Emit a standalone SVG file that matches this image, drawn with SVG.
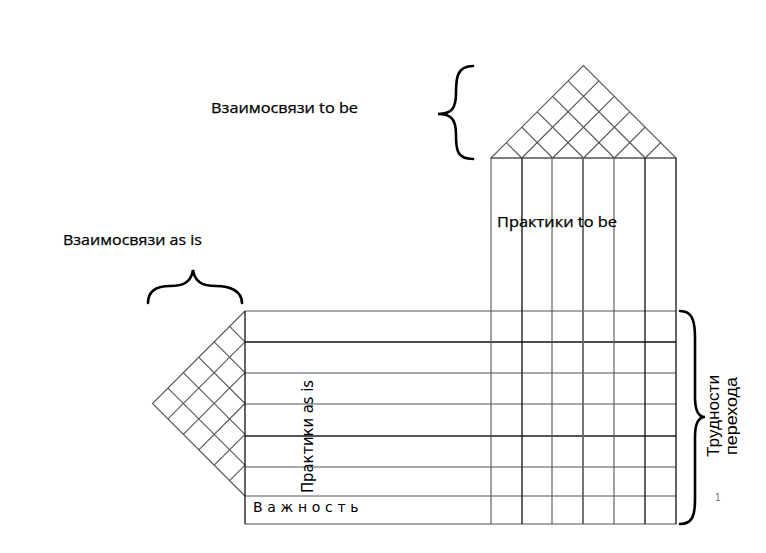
<svg xmlns="http://www.w3.org/2000/svg" width="766" height="553" viewBox="0 0 766 553">
<style>
.g{stroke:#555;stroke-width:1.1;fill:none}
.k{stroke:#111;stroke-width:1.3;fill:none}
.br{stroke:#000;stroke-width:2.6;fill:none;stroke-linecap:round}
.t{font-family:"Open Sans",sans-serif;fill:#000}
.d{font-family:"DejaVu Sans",sans-serif;fill:#000}
.a{font-family:"Liberation Sans",Arial,sans-serif;fill:#000}
</style>
<rect width="766" height="553" fill="#fff"/>
<g id="roof-to-be">
<path class="g" d="M491,158 L583.5,65.5 L676,158 Z"/>
<path class="g" d="M521.8,158 L506.4,142.6 M552.7,158 L521.8,127.2 M583.5,158 L537.3,111.8 M614.3,158 L552.7,96.3 M645.2,158 L568.1,80.9"/>
<path class="g" d="M521.8,158 L598.9,80.9 M552.7,158 L614.3,96.3 M583.5,158 L629.8,111.8 M614.3,158 L645.2,127.2 M645.2,158 L660.6,142.6"/>
</g>
<g id="wall-as-is">
<path class="g" d="M245,311 L152.5,403.5 L245,496"/>
<path class="g" d="M245,341.8 L229.6,326.4 M245,372.7 L214.2,341.8 M245,403.5 L198.8,357.3 M245,434.3 L183.3,372.7 M245,465.2 L167.9,388.1"/>
<path class="g" d="M245,341.8 L167.9,418.9 M245,372.7 L183.3,434.3 M245,403.5 L198.8,449.8 M245,434.3 L214.2,465.2 M245,465.2 L229.6,480.6"/>
</g>
<g id="matrix">
<path class="g" d="M245,311 H676 M245,373 H676 M245,404 H676 M245,467 H676 M245,496 H676 M245,524 H676"/>
<path class="k" d="M245,342 H676"/>
<path stroke="#555" stroke-width="1.8" d="M245,436 H676"/>
<path class="k" d="M245,311 V524"/>
<path class="g" d="M491,158 H676"/>
<path class="g" d="M491,158 V524 M552,158 V524 M614,158 V524"/>
<path stroke="#666" stroke-width="1.8" d="M583,158 V524"/>
<path class="k" d="M522,158 V524 M645,158 V524 M676,158 V524"/>
</g>
<g id="braces">
<path class="br" d="M473,66 C457,66 456,78 456,93 C456,108 452,114 438,114 C452,114 456,120 456,135 C456,150 457,159 473,159"/>
<path class="br" d="M148,303 C148,291 156,286 170,286 C184,286 191,282 193,270 C195,282 202,286 216,286 C230,286 242,291 242,303"/>
<path class="br" d="M680,311 C692,311 695,320 695,338 L695,397 C695,411 698,417 705,417 C698,417 695,423 695,437 L695,500 C695,516 692,524 680,524"/>
</g>
<g id="labels">
<text class="t" x="211" y="113" font-size="14.5" stroke="#000" stroke-width="0.25" textLength="147" lengthAdjust="spacingAndGlyphs">Взаимосвязи to be</text>
<text class="t" x="63" y="245" font-size="14.5" stroke="#000" stroke-width="0.25" textLength="139" lengthAdjust="spacingAndGlyphs">Взаимосвязи as is</text>
<text class="t" x="497" y="227" font-size="14.5" stroke="#000" stroke-width="0.25" textLength="120" lengthAdjust="spacingAndGlyphs">Практики to be</text>
<text class="d" transform="translate(313,493) rotate(-90)" font-size="15" textLength="113" lengthAdjust="spacingAndGlyphs">Практики as is</text>
<text class="d" x="253" y="512" font-size="14" letter-spacing="4.7">Важность</text>
<text class="a" transform="translate(719,457) rotate(-90)" font-size="16" textLength="82" lengthAdjust="spacingAndGlyphs">Трудности</text>
<text class="a" transform="translate(737,455) rotate(-90)" font-size="16" textLength="78" lengthAdjust="spacingAndGlyphs">перехода</text>
<text class="a" x="715" y="501" font-size="10" style="fill:#777">1</text>
</g>
</svg>
